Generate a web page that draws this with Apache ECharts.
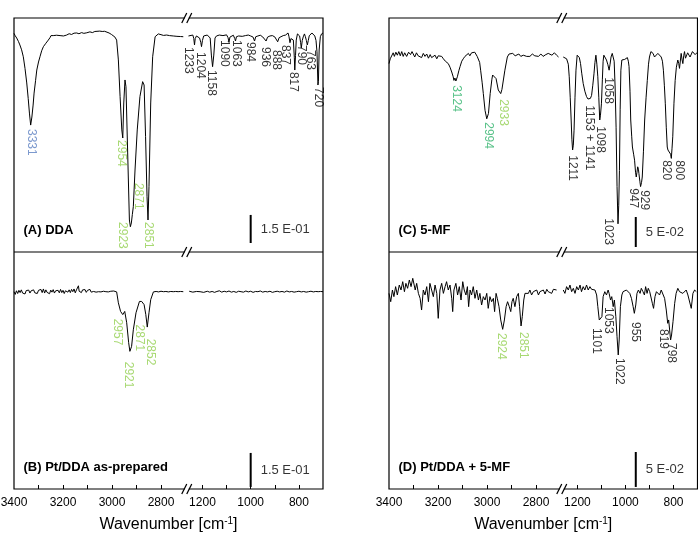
<!DOCTYPE html>
<html><head><meta charset="utf-8">
<script src="https://cdn.jsdelivr.net/npm/echarts@6/dist/echarts.min.js"></script>
<style>html,body{margin:0;padding:0;background:#fff}#c{width:698px;height:549px}</style>
</head><body><div id="c"></div>
<script>
// ---------- tick labels ----------
const ticksHigh = [3300, 3200, 3100, 3000, 2900, 2800];
const labelsHigh = [3400, 3200, 3000, 2800];
const ticksLow = [1200, 1100, 1000, 900, 800];
const labelsLow = [1200, 1000, 800];

// ---------- spectra [wavenumber, absorbance offset] ----------
const ddaHigh = [[3400,0.008],[3395,-0.005],[3389,-0.017],[3382,-0.035],[3376,-0.054],[3369,-0.080],[3362,-0.117],[3355,-0.180],[3348,-0.257],[3342,-0.340],[3337,-0.418],[3332,-0.482],[3327,-0.439],[3322,-0.375],[3318,-0.311],[3312,-0.245],[3307,-0.188],[3300,-0.145],[3294,-0.117],[3287,-0.085],[3280,-0.063],[3270,-0.045],[3260,-0.028],[3253,-0.015],[3249,-0.004],[3246,-0.001],[3243,0.006],[3240,-0.004],[3236,0.004],[3232,-0.008],[3226,-0.002],[3219,-0.010],[3212,-0.004],[3205,0.000],[3198,-0.006],[3192,0.002],[3185,-0.001],[3175,0.006],[3165,0.002],[3155,0.009],[3144,0.010],[3135,0.006],[3124,0.012],[3115,0.008],[3103,0.011],[3090,0.016],[3080,0.012],[3070,0.018],[3062,0.022],[3050,0.020],[3040,0.018],[3030,0.019],[3022,0.017],[3012,0.010],[3002,0.002],[2995,-0.001],[2988,-0.012],[2981,-0.028],[2974,-0.134],[2967,-0.330],[2960,-0.508],[2956,-0.551],[2952,-0.364],[2947,-0.241],[2943,-0.277],[2936,-0.631],[2929,-0.989],[2925,-1.025],[2921,-1.005],[2917,-0.960],[2913,-0.918],[2906,-0.722],[2897,-0.508],[2886,-0.330],[2875,-0.250],[2869,-0.268],[2863,-0.544],[2857,-0.865],[2853,-0.989],[2849,-0.811],[2842,-0.364],[2834,-0.117],[2824,-0.010],[2811,0.005],[2800,0.001],[2790,-0.003],[2777,-0.001],[2765,-0.004],[2750,-0.006],[2735,-0.008],[2720,-0.009],[2709,-0.010]];
const ddaLow = [[1258,-0.006],[1250,-0.004],[1240,-0.001],[1236,-0.020],[1233,-0.054],[1230,-0.020],[1225,-0.006],[1218,-0.010],[1212,-0.017],[1207,-0.040],[1204,-0.063],[1200,-0.030],[1195,-0.006],[1188,-0.002],[1180,-0.001],[1173,-0.010],[1168,-0.017],[1163,-0.108],[1158,-0.170],[1153,-0.108],[1148,-0.017],[1142,-0.006],[1136,0.002],[1130,-0.001],[1122,0.004],[1115,-0.004],[1110,-0.006],[1100,0.000],[1094,-0.015],[1090,-0.038],[1086,-0.012],[1080,-0.006],[1072,-0.002],[1066,-0.020],[1063,-0.033],[1059,-0.010],[1050,-0.006],[1042,0.002],[1035,-0.008],[1030,-0.011],[1022,-0.004],[1010,-0.001],[1000,-0.006],[990,-0.012],[984,-0.033],[979,-0.010],[970,-0.006],[960,-0.002],[950,-0.011],[942,-0.015],[936,-0.033],[930,-0.012],[920,-0.006],[910,-0.004],[900,-0.011],[893,-0.020],[888,-0.037],[882,-0.015],[875,-0.006],[865,-0.004],[855,-0.001],[848,0.006],[845,0.010],[841,-0.010],[837,-0.042],[833,-0.020],[828,-0.010],[823,-0.028],[819,-0.120],[817,-0.188],[814,-0.110],[811,-0.028],[806,0.005],[801,0.000],[797,-0.006],[793,-0.040],[790,-0.070],[786,-0.030],[782,-0.011],[777,0.005],[773,-0.010],[769,-0.030],[765,-0.054],[761,-0.030],[757,-0.005],[752,0.004],[746,0.010],[740,0.003],[734,-0.006],[729,-0.030],[725,-0.090],[721,-0.268],[719,-0.250],[716,-0.081],[711,-0.010],[706,0.005],[700,0.010]];

const ptddaHigh = [[3400,0.000],[3395,-0.012],[3390,0.004],[3385,-0.008],[3380,0.006],[3375,-0.004],[3370,0.008],[3365,-0.006],[3360,0.002],[3355,-0.010],[3350,0.005],[3345,-0.003],[3340,0.007],[3335,-0.006],[3330,0.004],[3325,-0.002],[3320,0.008],[3315,-0.005],[3310,0.003],[3305,-0.008],[3300,0.006],[3295,0.000],[3290,0.010],[3285,-0.004],[3280,0.012],[3275,-0.006],[3270,0.008],[3265,-0.003],[3260,0.005],[3255,-0.009],[3250,0.007],[3245,-0.002],[3240,0.009],[3235,-0.006],[3230,0.004],[3225,-0.003],[3220,0.006],[3215,-0.005],[3210,0.010],[3205,-0.004],[3200,0.006],[3195,-0.008],[3190,0.004],[3185,0.012],[3180,-0.002],[3175,0.008],[3170,-0.004],[3165,0.010],[3160,0.000],[3155,0.012],[3150,-0.005],[3145,0.008],[3140,0.004],[3137,0.026],[3134,0.002],[3130,0.010],[3125,-0.004],[3120,0.008],[3115,0.000],[3110,0.009],[3105,-0.003],[3100,0.006],[3095,0.002],[3090,0.010],[3085,-0.002],[3080,0.006],[3075,0.001],[3070,0.008],[3065,-0.002],[3060,0.005],[3055,0.000],[3050,0.007],[3045,-0.001],[3040,0.006],[3035,0.002],[3030,0.008],[3025,0.000],[3020,0.005],[3015,-0.001],[3010,0.006],[3005,0.002],[3000,0.007],[2993,0.003],[2986,0.000],[2981,-0.001],[2974,-0.049],[2965,-0.087],[2956,-0.101],[2948,-0.087],[2940,-0.137],[2932,-0.225],[2927,-0.263],[2920,-0.241],[2913,-0.168],[2902,-0.093],[2888,-0.043],[2879,-0.043],[2869,-0.057],[2862,-0.101],[2856,-0.156],[2849,-0.093],[2842,-0.035],[2831,-0.001],[2820,0.001],[2810,-0.001],[2800,0.002],[2790,0.000],[2780,0.001],[2770,-0.001],[2760,0.001],[2750,0.000],[2740,0.001],[2730,0.000],[2720,0.001],[2709,0.000]];
const ptddaLow = [[1255,0.002],[1240,-0.002],[1225,0.001],[1210,0.000],[1195,-0.003],[1180,0.002],[1170,-0.002],[1160,0.001],[1150,-0.003],[1140,0.001],[1130,0.004],[1120,-0.002],[1110,0.002],[1100,-0.001],[1090,0.003],[1080,-0.002],[1070,0.001],[1060,-0.003],[1050,0.002],[1040,0.000],[1030,-0.002],[1020,0.003],[1010,-0.001],[1000,0.002],[990,-0.003],[980,0.001],[970,0.000],[960,0.003],[950,-0.002],[940,0.001],[930,-0.001],[920,0.002],[910,-0.003],[900,0.000],[890,0.002],[880,-0.001],[870,0.001],[860,-0.002],[850,0.003],[840,-0.001],[830,0.001],[820,-0.002],[810,0.000],[800,0.002],[790,-0.001],[780,0.001],[770,-0.002],[760,0.000],[750,0.002],[740,-0.001],[730,0.001],[720,0.000],[710,0.001],[700,0.000]];

const mfHigh = [[3400,-0.014],[3395,-0.006],[3389,-0.003],[3383,0.004],[3378,-0.002],[3372,0.005],[3366,0.000],[3360,0.006],[3354,-0.001],[3348,0.006],[3342,-0.002],[3336,0.004],[3328,-0.002],[3320,0.005],[3312,0.001],[3306,0.006],[3301,0.002],[3295,-0.003],[3288,0.004],[3281,-0.001],[3274,0.002],[3267,-0.004],[3260,0.003],[3253,-0.002],[3246,0.002],[3239,-0.005],[3232,0.001],[3226,-0.004],[3219,-0.005],[3212,0.000],[3205,-0.006],[3199,-0.001],[3192,-0.004],[3185,-0.002],[3178,-0.006],[3170,-0.010],[3164,-0.008],[3158,-0.014],[3151,-0.020],[3144,-0.028],[3138,-0.036],[3135,-0.042],[3131,-0.038],[3127,-0.043],[3121,-0.036],[3115,-0.026],[3110,-0.019],[3103,-0.010],[3097,-0.006],[3090,-0.002],[3083,0.000],[3076,0.003],[3070,-0.001],[3063,0.004],[3056,0.002],[3050,0.005],[3045,0.003],[3040,-0.002],[3035,-0.003],[3030,-0.012],[3026,-0.025],[3020,-0.045],[3015,-0.064],[3008,-0.092],[3001,-0.106],[2994,-0.097],[2987,-0.064],[2980,-0.040],[2977,-0.033],[2971,-0.032],[2963,-0.039],[2954,-0.058],[2944,-0.064],[2939,-0.057],[2936,-0.059],[2927,-0.025],[2917,-0.003],[2910,0.002],[2906,0.000],[2895,0.003],[2885,-0.001],[2879,-0.003],[2870,0.002],[2862,-0.002],[2852,0.000],[2845,0.003],[2838,-0.002],[2825,-0.002],[2815,0.002],[2805,-0.001],[2798,0.001],[2790,-0.002],[2780,0.002],[2771,-0.002],[2760,0.001],[2750,0.003],[2743,0.003],[2735,0.000],[2725,0.004],[2716,0.000],[2708,-0.003]];
const mfLow = [[1259,-0.003],[1252,-0.002],[1245,-0.006],[1238,-0.015],[1234,-0.036],[1230,-0.070],[1226,-0.108],[1223,-0.140],[1220,-0.158],[1217,-0.150],[1214,-0.125],[1210,-0.070],[1206,-0.025],[1201,0.000],[1197,0.003],[1192,-0.004],[1187,-0.014],[1182,-0.030],[1176,-0.047],[1169,-0.060],[1162,-0.069],[1156,-0.073],[1151,-0.075],[1146,-0.072],[1141,-0.067],[1136,-0.050],[1131,-0.031],[1127,-0.012],[1123,0.000],[1119,-0.015],[1115,-0.036],[1111,-0.070],[1107,-0.108],[1104,-0.100],[1100,-0.081],[1096,-0.040],[1093,-0.010],[1090,0.000],[1085,-0.002],[1079,-0.008],[1073,-0.016],[1068,-0.025],[1064,-0.015],[1060,-0.003],[1055,0.003],[1051,0.003],[1047,-0.010],[1043,-0.053],[1039,-0.120],[1035,-0.219],[1031,-0.281],[1028,-0.250],[1025,-0.192],[1022,-0.090],[1019,-0.025],[1015,-0.008],[1012,-0.006],[1008,-0.008],[1003,-0.007],[998,-0.006],[992,-0.004],[988,-0.010],[985,-0.019],[981,-0.060],[978,-0.108],[974,-0.135],[971,-0.153],[966,-0.165],[962,-0.175],[958,-0.195],[955,-0.203],[952,-0.195],[949,-0.186],[946,-0.190],[944,-0.197],[940,-0.210],[937,-0.219],[933,-0.212],[930,-0.203],[925,-0.160],[920,-0.108],[914,-0.070],[909,-0.042],[904,-0.015],[900,-0.003],[894,0.006],[890,0.007],[885,0.003],[879,-0.003],[872,0.000],[865,0.003],[858,0.000],[851,-0.003],[846,-0.010],[842,-0.025],[838,-0.050],[834,-0.081],[830,-0.120],[826,-0.153],[823,-0.158],[821,-0.156],[818,-0.160],[815,-0.161],[812,-0.165],[809,-0.172],[806,-0.155],[803,-0.136],[798,-0.080],[793,-0.042],[788,-0.020],[782,-0.008],[778,-0.014],[775,-0.022],[771,-0.008],[768,0.003],[764,-0.008],[761,-0.014],[757,0.000],[754,0.006],[750,-0.005],[745,-0.008],[741,0.004],[736,0.006],[731,-0.003],[726,-0.003],[721,0.006],[716,0.008],[710,0.001],[705,0.000],[700,0.005]];

const ptmfHigh = [[3400,-0.0048],[3393,-0.0167],[3386,0],[3380,-0.0095],[3373,0.0048],[3366,-0.0071],[3358,0.0071],[3351,0],[3344,0.0119],[3337,-0.0024],[3331,0.0095],[3324,0.0024],[3317,0.0143],[3310,0.0048],[3303,0.0167],[3298,0.0181],[3293,0],[3287,0.0095],[3280,-0.0048],[3273,-0.0119],[3267,-0.0286],[3260,0],[3253,-0.0071],[3246,0.0048],[3239,-0.0167],[3233,0.0095],[3226,0],[3219,-0.0095],[3212,0.0071],[3205,-0.0048],[3199,-0.0405],[3192,0],[3185,0.0095],[3178,-0.0048],[3171,0.0048],[3165,0.0119],[3158,0],[3151,0.0071],[3144,-0.0119],[3140,-0.0309],[3135,0],[3127,0.0095],[3120,-0.0071],[3113,0.0048],[3106,-0.0143],[3099,0.0119],[3093,0],[3086,-0.0071],[3080,0.0048],[3075,-0.0238],[3069,0],[3063,-0.0071],[3056,0.0048],[3049,-0.0119],[3042,0],[3035,-0.0143],[3029,-0.0048],[3022,-0.0214],[3015,-0.0095],[3008,-0.0143],[3001,-0.0048],[2995,-0.0262],[2988,-0.0095],[2981,-0.0167],[2974,-0.0119],[2969,-0.0309],[2963,-0.0048],[2958,-0.0119],[2951,-0.0238],[2944,-0.0428],[2936,-0.0562],[2929,-0.0428],[2922,-0.0238],[2916,-0.0167],[2909,-0.0238],[2903,-0.0309],[2898,-0.0167],[2893,-0.0119],[2886,-0.0238],[2879,-0.0095],[2872,-0.0048],[2867,-0.0238],[2861,-0.0514],[2856,-0.0381],[2850,-0.0143],[2845,-0.0048],[2838,-0.0024],[2831,-0.0048],[2825,0],[2818,-0.0071],[2811,-0.0024],[2804,-0.0048],[2797,0],[2790,-0.0071],[2784,-0.0024],[2777,-0.0048],[2770,0],[2763,-0.0057],[2756,0.001],[2750,-0.0024],[2743,0],[2736,-0.0048],[2729,0.001],[2722,-0.001],[2716,0]];
const ptmfLow = [[1259,0],[1252,-0.0048],[1245,0.0048],[1238,0],[1231,0.0071],[1224,-0.0024],[1217,0.0024],[1210,-0.0048],[1203,0.0048],[1196,0],[1189,0.0071],[1183,-0.0024],[1176,0.0048],[1169,0],[1162,0.0071],[1155,0],[1148,0.0048],[1141,0.001],[1134,0.0024],[1127,0],[1120,-0.0071],[1115,-0.0238],[1109,-0.0428],[1104,-0.0452],[1098,-0.0381],[1093,-0.0095],[1086,-0.0024],[1079,-0.0071],[1072,0],[1068,-0.0048],[1062,-0.0143],[1057,-0.0095],[1051,-0.0238],[1046,-0.0143],[1040,-0.0381],[1035,-0.0667],[1030,-0.0928],[1026,-0.0714],[1021,-0.0238],[1015,-0.0071],[1010,-0.0024],[1003,-0.0048],[996,0],[989,-0.0024],[982,-0.0048],[975,-0.0119],[968,-0.0238],[963,-0.0333],[957,-0.0214],[952,-0.0048],[946,0],[939,-0.0048],[934,0.0024],[927,-0.0024],[921,-0.0071],[916,0.0048],[910,-0.0048],[905,0.0024],[899,-0.0024],[894,0],[888,-0.019],[883,-0.0262],[877,-0.0095],[871,-0.0024],[865,0],[858,-0.0071],[851,0],[844,-0.0024],[837,-0.0119],[830,-0.0286],[824,-0.0476],[820,-0.0428],[816,-0.0571],[812,-0.0714],[808,-0.0643],[802,-0.0452],[795,-0.019],[789,-0.0048],[782,0.0024],[775,-0.0024],[768,0],[761,-0.0048],[754,-0.0024],[747,0],[740,-0.0071],[733,-0.0095],[726,-0.0262],[719,-0.0048],[712,0],[705,-0.0024]];

// ---------- y ranges (absorbance) ----------
const yRangeA = [-1.16, 0.09];
const yRangeB = [-0.87, 0.175];
const yRangeC = [-0.328, 0.062];
const yRangeD = [-0.2843, 0.0543];

// ---------- scale bars [wavenumber, from, to] ----------
const scaleBarA = [1000, -1.112, -0.962];
const scaleBarB = [1000, -0.861, -0.711];
const scaleBarC = [957, -0.3197, -0.2697];
const scaleBarD = [957, -0.2814, -0.2314];
const scaleTextDDA = '1.5 E-01';
const scaleTextMF = '5 E-02';

// ---------- peak annotations [text, wavenumber, value, group] ----------
const peaksAHigh = [['3331',3328,-0.503,'NH'],['2954',2964,-0.562,'CH'],['2871',2894,-0.791,'CH'],['2923',2956,-1.0,'CH'],['2851',2853,-1.0,'CH']];
const peaksALow = [['1233',1259,-0.065],['1204',1210,-0.092],['1158',1162,-0.188],['1090',1111,-0.028],['1063',1058,-0.028],['984',1003,-0.038],['936',941,-0.065],['888',892,-0.081],['837',858,-0.054],['817',823,-0.198],['790',788,-0.054],['763',754,-0.081],['720',720,-0.279]];
const peaksBHigh = [['2957',2978,-0.119,'CH'],['2871',2889,-0.145,'CH'],['2852',2842,-0.207,'CH'],['2921',2933,-0.309,'CH']];
const peaksCHigh = [['3124',3127,-0.050,'MF'],['2994',2995,-0.1117,'MF'],['2933',2933,-0.0733,'CH']];
const peaksCLow = [['1211',1220,-0.1667],['1153 + 1141',1151,-0.0833],['1098',1104,-0.1183],['1058',1072,-0.0367],['1023',1072,-0.2717],['947',968,-0.2217],['929',920,-0.225],['820',830,-0.175],['800',775,-0.175]];
const peaksDHigh = [['2924',2940,-0.0614,'CH'],['2851',2852,-0.060,'CH']];
const peaksDLow = [['1101',1120,-0.0543],['1053',1072,-0.0243],['1022',1024,-0.0971],['955',961,-0.0457],['819',844,-0.0557],['798',809,-0.0757]];

// ---------- styling / layout ----------
const FONT = 'Liberation Sans, Arial, sans-serif';
const groupColor = {NH:'#5b80c2', CH:'#92d050', MF:'#2fb36c', other:'#000000'};
const layout = {colX:[14, 389], colR:[323, 697.5], rowY:[18, 252], rowH:[234, 237], hiW:171.5, gap:2.5};

const panels = [
  {label:'(A) DDA', col:0, row:0, hi:ddaHigh, lo:ddaLow, yr:yRangeA, bar:scaleBarA, barText:scaleTextDDA, pHi:peaksAHigh, pLo:peaksALow},
  {label:'(B) Pt/DDA as-prepared', col:0, row:1, hi:ptddaHigh, lo:ptddaLow, yr:yRangeB, bar:scaleBarB, barText:scaleTextDDA, pHi:peaksBHigh, pLo:[]},
  {label:'(C) 5-MF', col:1, row:0, hi:mfHigh, lo:mfLow, yr:yRangeC, bar:scaleBarC, barText:scaleTextMF, pHi:peaksCHigh, pLo:peaksCLow},
  {label:'(D) Pt/DDA + 5-MF', col:1, row:1, hi:ptmfHigh, lo:ptmfLow, yr:yRangeD, bar:scaleBarD, barText:scaleTextMF, pHi:peaksDHigh, pLo:peaksDLow}
];

const grids = [], xAxes = [], yAxes = [], series = [], graphics = [];

function makeX(gi, min, max, ticks, labels, show) {
  return {gridIndex:gi, type:'value', inverse:true, min:min, max:max, position:'bottom',
    axisLine:{show:false, onZero:false}, splitLine:{show:false},
    axisTick:{show:show, inside:true, length:4, customValues:ticks, lineStyle:{color:'#000', width:1}},
    axisLabel:{show:show, customValues:labels, formatter:v => String(v), color:'#000', fontSize:12, fontFamily:FONT, margin:8, showMinLabel:true, showMaxLabel:true}};
}
function peakSeries(ai, list) {
  return {type:'scatter', xAxisIndex:ai, yAxisIndex:ai, symbolSize:0, silent:true, z:5,
    data:list.map(d => ({value:[d[1], d[2]], label:{formatter:d[0], color:groupColor[d[3] || 'other']}})),
    label:{show:true, position:'inside', rotate:-90, align:'left', verticalAlign:'middle', fontSize:12, fontFamily:FONT}};
}

panels.forEach((p, i) => {
  const gx = layout.colX[p.col], gy = layout.rowY[p.row], gh = layout.rowH[p.row];
  const loLeft = gx + layout.hiW + layout.gap;
  const loW = layout.colR[p.col] - loLeft;
  const hiI = 2 * i, loI = 2 * i + 1;
  const bottom = p.row === 1;
  grids.push({left:gx, top:gy, width:layout.hiW, height:gh, outerBoundsMode:'none', containLabel:false});
  grids.push({left:loLeft, top:gy, width:loW, height:gh, outerBoundsMode:'none', containLabel:false});
  xAxes.push(makeX(hiI, 2700, 3400, ticksHigh, labelsHigh, bottom));
  xAxes.push(makeX(loI, 700, 1260, ticksLow, labelsLow, bottom));
  yAxes.push({gridIndex:hiI, type:'value', min:p.yr[0], max:p.yr[1], show:false});
  yAxes.push({gridIndex:loI, type:'value', min:p.yr[0], max:p.yr[1], show:false});
  const lineStyle = {color:'#000', width:1};
  series.push({type:'line', xAxisIndex:hiI, yAxisIndex:hiI, data:p.hi, symbol:'none', lineStyle:lineStyle, silent:true});
  series.push({type:'line', xAxisIndex:loI, yAxisIndex:loI, data:p.lo, symbol:'none', lineStyle:lineStyle, silent:true});
  series.push({type:'line', xAxisIndex:loI, yAxisIndex:loI, data:[[p.bar[0], p.bar[1]], [p.bar[0], p.bar[2]]], symbol:'none', lineStyle:{color:'#000', width:2}, silent:true});
  series.push({type:'scatter', xAxisIndex:loI, yAxisIndex:loI, data:[[p.bar[0], (p.bar[1] + p.bar[2]) / 2]], symbolSize:0, silent:true,
    label:{show:true, position:'right', distance:10, formatter:p.barText, color:'#000', fontSize:13, fontFamily:FONT}});
  if (p.pHi.length) series.push(peakSeries(hiI, p.pHi));
  if (p.pLo.length) series.push(peakSeries(loI, p.pLo));
  graphics.push({type:'text', x:gx + 9.5, y:gy + gh - 22, style:{text:p.label, fontSize:13, fontWeight:'bold', fontFamily:FONT, fill:'#000', align:'left', verticalAlign:'middle'}});
});

// frames, dividers, break marks, axis titles
[0, 1].forEach(c => {
  const x0 = layout.colX[c], x1 = layout.colR[c];
  const yTop = layout.rowY[0], yMid = layout.rowY[1], yBot = layout.rowY[1] + layout.rowH[1];
  const st = {stroke:'#000', lineWidth:1.2, fill:'none'};
  graphics.push({type:'rect', shape:{x:x0, y:yTop, width:x1 - x0, height:yBot - yTop}, style:st, z:10});
  graphics.push({type:'line', shape:{x1:x0, y1:yMid, x2:x1, y2:yMid}, style:st, z:10});
  const bx = x0 + layout.hiW + layout.gap / 2;
  [yTop, yMid, yBot].forEach(yy => {
    graphics.push({type:'rect', shape:{x:bx - 2, y:yy - 1.5, width:4, height:3}, style:{fill:'#fff'}, z:11});
    [-2.5, 2.5].forEach(dx => {
      graphics.push({type:'line', shape:{x1:bx + dx - 2.5, y1:yy + 5, x2:bx + dx + 2.5, y2:yy - 5}, style:{stroke:'#000', lineWidth:1.2}, z:12});
    });
  });
  graphics.push({type:'text', x:(x0 + x1) / 2, y:525, z:10,
    style:{text:'{n|Wavenumber [cm}{s|-1}{n|]}', align:'center', verticalAlign:'middle', fill:'#000',
      rich:{n:{fontSize:16, fontFamily:FONT, lineHeight:18, fill:'#000'}, s:{fontSize:10, fontFamily:FONT, lineHeight:10, verticalAlign:'top', fill:'#000'}}}});
});

const chart = echarts.init(document.getElementById('c'), null, {renderer:'canvas'});
chart.setOption({animation:false, backgroundColor:'#fff', grid:grids, xAxis:xAxes, yAxis:yAxes, series:series, graphic:graphics});
</script>
</body></html>
